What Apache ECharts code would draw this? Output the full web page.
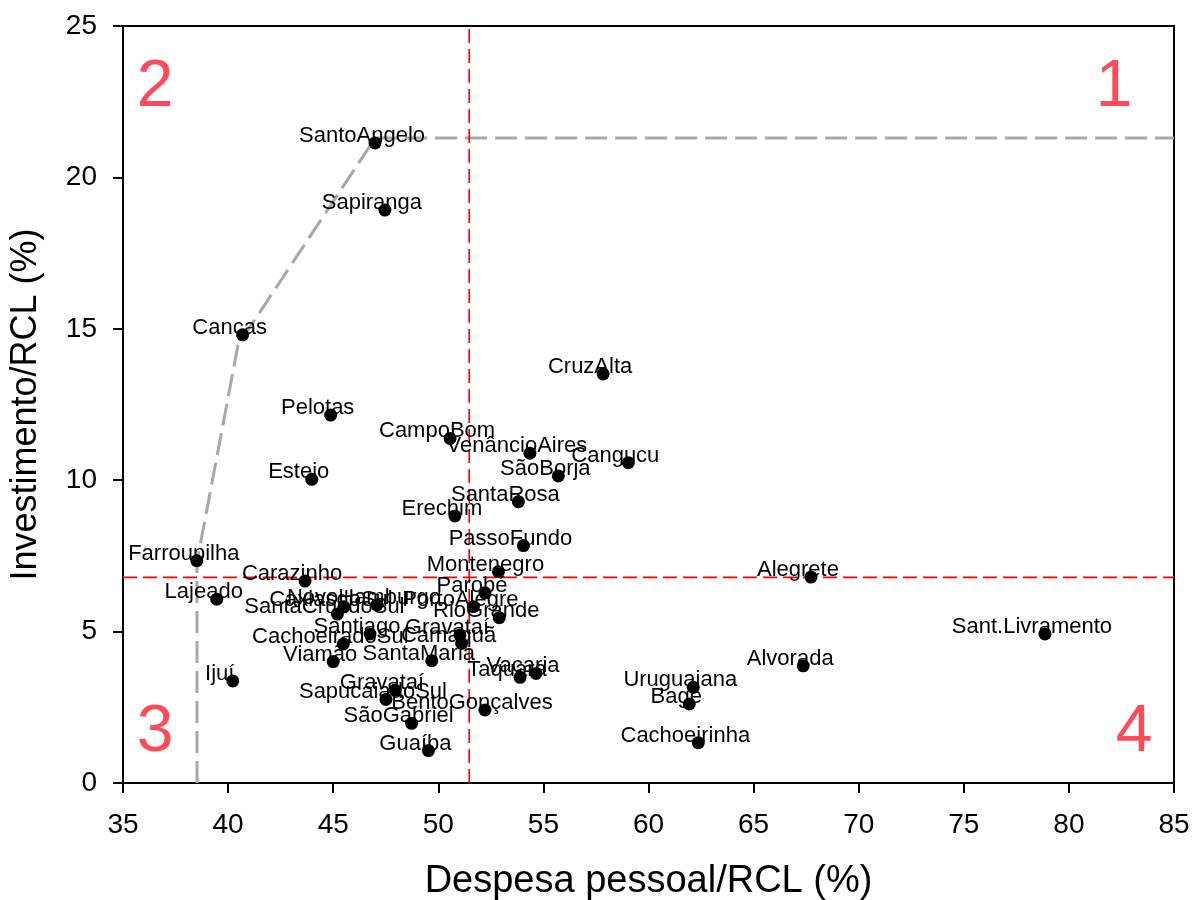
<!DOCTYPE html>
<html>
<head>
<meta charset="utf-8">
<script src="https://cdn.jsdelivr.net/npm/echarts@6/dist/echarts.min.js"></script>
<style>
html,body{margin:0;padding:0;background:#fff;}
#chart{width:1192px;height:900px;}
</style>
</head>
<body>
<div id="chart"></div>
<script>
var cities = ["SantoAngelo","Sapiranga","Cancas","Pelotas","CampoBom","VenâncioAires","Cangucu","SãoBorja","Esteio","SantaRosa","Erechim","PassoFundo","Montenegro","Carazinho","CruzAlta","Alegrete","Sant.Livramento","Alvorada","Uruguaiana","Bagé","Cachoeirinha","Farroupilha","Lajeado","Ijuí","SantaCruzdoSul","CaxiasdoSul","NovoHamburgo","PortoAlegre","Parobé","RioGrande","Santiago","CachoeiradoSul","Viamão","SantaMaria","Gravataí","Camaquã","Taquara","Vacaria","Gravataí","SapucaiadoSul","BentoGonçalves","SãoGabriel","Guaíba"];
var despesa = [46.99,47.46,40.69,44.88,50.56,54.36,59.04,55.71,43.98,53.81,50.79,54.05,52.86,43.66,57.84,67.73,78.86,67.36,62.13,61.94,62.37,38.51,39.46,40.22,45.20,45.51,47.08,51.67,52.22,52.90,46.75,45.48,45.00,49.69,51.03,51.11,53.89,54.65,47.94,47.51,52.22,48.73,49.53];
var investimento = [21.14,18.92,14.80,12.15,11.38,10.89,10.58,10.14,10.03,9.29,8.82,7.84,6.98,6.67,13.51,6.80,4.92,3.87,3.16,2.61,1.33,7.34,6.07,3.37,5.58,5.82,5.88,5.82,6.28,5.46,4.92,4.59,4.01,4.04,4.89,4.61,3.49,3.62,3.07,2.76,2.41,1.97,1.07];
var frontierX = [38.52,38.52,40.47,47.0,85];
var frontierY = [0,7.3,14.46,21.3,21.3];
var refDespesa = 51.47;
var refInvest = 6.79;
var xTicks = {min:35,max:85,interval:5};
var yTicks = {min:0,max:25,interval:5};
var quadrants = ["1","2","3","4"];

var pts = cities.map(function(c,i){return {name:c,value:[despesa[i],investimento[i]]};});
var frontier = frontierX.map(function(x,i){return [x,frontierY[i]];});
var FONT = 'Arial, "Liberation Sans", sans-serif';

var chart = echarts.init(document.getElementById('chart'));
var qStyle = {fill:'#ff4a5a',font:'66px '+FONT,textAlign:'center',textVerticalAlign:'middle'};
chart.setOption({
  animation:false,
  backgroundColor:'#fff',
  grid:{left:123,right:18,top:26,bottom:117,show:true,borderColor:'#000',borderWidth:2,backgroundColor:'transparent',
    containLabel:false,outerBoundsMode:'none'},
  xAxis:{type:'value',min:xTicks.min,max:xTicks.max,interval:xTicks.interval,
    name:'Despesa pessoal/RCL (%)',nameLocation:'middle',nameGap:80,
    nameTextStyle:{fontFamily:FONT,fontSize:38,color:'#000'},
    axisLine:{lineStyle:{color:'#000',width:2}},
    axisTick:{show:true,length:10,lineStyle:{color:'#000',width:2}},
    axisLabel:{fontFamily:FONT,fontSize:28,color:'#000',margin:28},
    splitLine:{show:false}},
  yAxis:{type:'value',min:yTicks.min,max:yTicks.max,interval:yTicks.interval,
    name:'Investimento/RCL (%)',nameLocation:'middle',nameGap:79,
    nameTextStyle:{fontFamily:FONT,fontSize:36,color:'#000'},
    axisLine:{lineStyle:{color:'#000',width:2}},
    axisTick:{show:true,length:10,lineStyle:{color:'#000',width:2}},
    axisLabel:{fontFamily:FONT,fontSize:28,color:'#000',margin:26},
    splitLine:{show:false}},
  graphic:[
    {type:'text',x:1114,y:88,style:Object.assign({text:quadrants[0]},qStyle),z:5},
    {type:'text',x:155,y:88,style:Object.assign({text:quadrants[1]},qStyle),z:5},
    {type:'text',x:155,y:733,style:Object.assign({text:quadrants[2]},qStyle),z:5},
    {type:'text',x:1134,y:733,style:Object.assign({text:quadrants[3]},qStyle),z:5}
  ],
  series:[
    {type:'line',data:frontier,symbol:'none',z:1,
      lineStyle:{color:'#a8a8a8',width:3,type:[22,8]}},
    {type:'line',data:[[refDespesa,yTicks.min],[refDespesa,yTicks.max]],symbol:'none',z:1,
      lineStyle:{color:'#ff0000',width:1.6,type:[14,6]}},
    {type:'line',data:[[xTicks.min,refInvest],[xTicks.max,refInvest]],symbol:'none',z:1,
      lineStyle:{color:'#ff0000',width:1.6,type:[14,6]}},
    {type:'scatter',data:pts,symbolSize:13,z:3,
      itemStyle:{color:'#000',opacity:1},
      label:{show:true,position:'inside',offset:[-13,-7],formatter:'{b}',
        fontFamily:FONT,fontSize:22,color:'#000'}}
  ]
});
</script>
</body>
</html>
